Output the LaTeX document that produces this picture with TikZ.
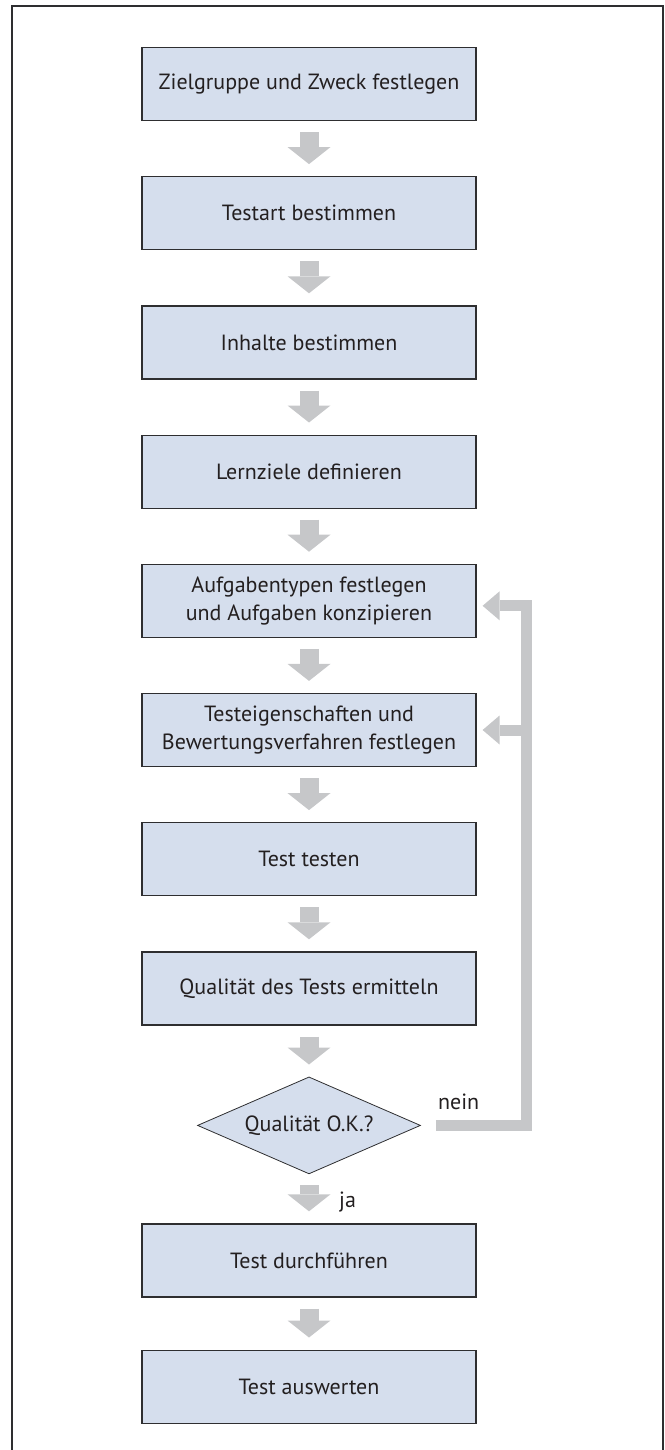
\documentclass[tikz,border=0pt]{standalone}
\usepackage{fontspec}
\setmainfont{PT Sans}
\usepackage{tikz}
\usetikzlibrary{positioning, arrows.meta, shapes.geometric, calc}
\definecolor{boxfill}{HTML}{D5DEED}
\definecolor{flowgray}{HTML}{C6C7C9}
\definecolor{edgegray}{HTML}{2E2E30}
\definecolor{textdark}{HTML}{231F20}

\begin{document}
\begin{tikzpicture}[
                    x=1pt, y=1pt,
                    node distance=55pt,
                    every node/.style={font=\fontsize{22}{27.5}\selectfont, text=textdark},
                    stepbox/.style={draw=edgegray, line width=1.2pt, fill=boxfill,
                                    minimum width=334pt, minimum height=73pt,
                                    inner sep=0pt, align=center},
                    decision/.style={diamond, draw=edgegray, line width=0.8pt, fill=boxfill,
                                     minimum width=223pt, minimum height=97pt,
                                     inner sep=0pt, aspect=2.3},
                    flow/.style={draw=flowgray, line width=19pt,
                                 -{Triangle[width=43pt,length=17pt,line width=0pt]},
                                 shorten <=11pt, shorten >=12pt},
                    backline/.style={draw=flowgray, line width=11pt, line join=miter}
                ]
                  \useasboundingbox (0,0) rectangle (664,-1450);
                  \draw[edgegray, line width=1.5pt] (12,-1450) -- (12,-6) -- (663,-6) -- (663,-1450);

                  \node[stepbox] (b1) at (309,-84) {Zielgruppe und Zweck festlegen};
                  \node[stepbox, below=of b1] (b2) {Testart bestimmen};
                  \node[stepbox, below=of b2] (b3) {Inhalte bestimmen};
                  \node[stepbox, below=of b3] (b4) {Lernziele definieren};
                  \node[stepbox, below=of b4] (b5) {Aufgabentypen festlegen\\und Aufgaben konzipieren};
                  \node[stepbox, below=of b5] (b6) {Testeigenschaften und\\Bewertungsverfahren festlegen};
                  \node[stepbox, below=of b6] (b7) {Test testen};
                  \node[stepbox, below=of b7] (b8) {Qualität des Tests ermitteln};
                  \node[decision, below=51pt of b8] (dia) {Qualität O.K.?};
                  \node[stepbox, below=49pt of dia] (b9) {Test durchführen};
                  \node[stepbox, below=52pt of b9] (b10) {Test auswerten};

                  \foreach \from/\to in {b1/b2, b2/b3, b3/b4, b4/b5, b5/b6, b6/b7, b7/b8, b8/dia, dia/b9, b9/b10}
                    \draw[flow] (\from) -- (\to);

                  \node[anchor=west, inner sep=0pt] (ja) at ($(dia.south)!0.5!(b9.north)+(30pt,-3pt)$) {ja};
                  \node[anchor=base west, inner sep=0pt] (nein) at ($(dia.east)+(17pt,16pt)$) {nein};

                  \coordinate (turn) at ($(b5.east)+(50pt,-5pt)$);
                  \coordinate (join) at (turn |- b6.east);
                  \draw[backline, -{Triangle[width=29pt,length=17pt,line width=0pt]}, shorten <=15pt, shorten >=6pt]
                    (dia.east) -| (turn) -- (b5.east |- turn);
                  \draw[backline, -{Triangle[width=29pt,length=17pt,line width=0pt]}, shorten >=6pt]
                    (join) -- (b6.east);
                \end{tikzpicture}
\end{document}
